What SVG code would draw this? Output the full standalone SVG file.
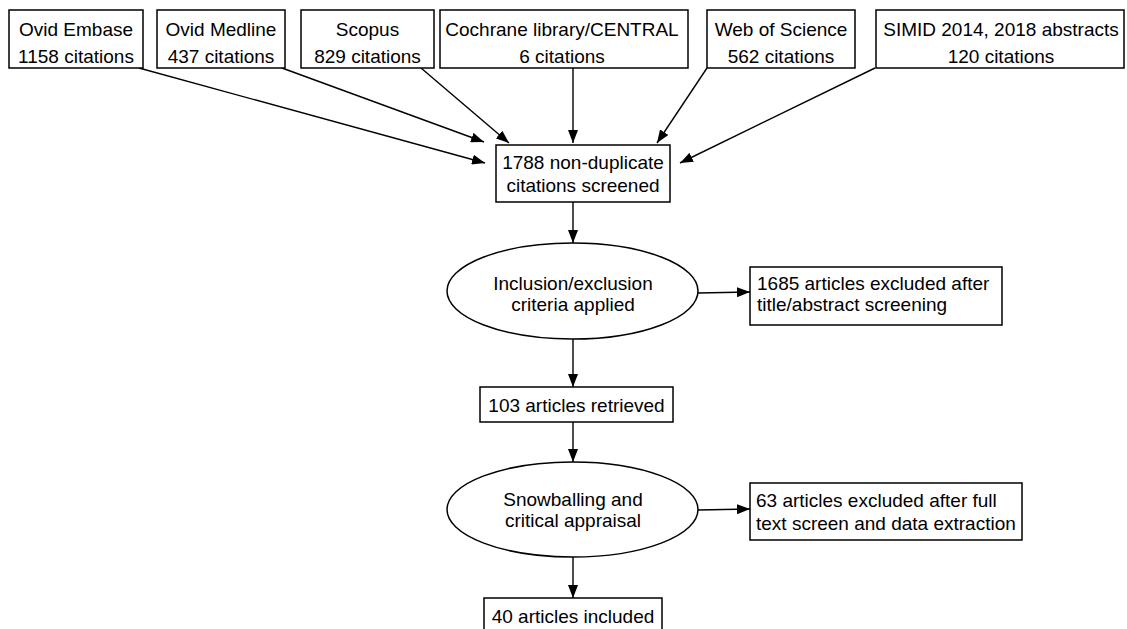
<svg xmlns="http://www.w3.org/2000/svg" width="1127" height="629" viewBox="0 0 1127 629">
<defs>
<style>
.box{fill:#fff;stroke:#000;stroke-width:1.5}
.t{font-family:"Liberation Sans",Arial,sans-serif;font-size:19px;fill:#000}
.c{text-anchor:middle}
.ln{stroke:#000;stroke-width:1.4;fill:none;marker-end:url(#ah)}
</style>
<marker id="ah" viewBox="0 0 13 10" refX="13" refY="5" markerWidth="13" markerHeight="10" markerUnits="userSpaceOnUse" orient="auto"><path d="M0,0 L13,5 L0,10 z" fill="#000"/></marker>
</defs>
<rect width="1127" height="629" fill="#fff"/>
<g id="connectors">
<line class="ln" x1="139" y1="68" x2="485" y2="163"/>
<line class="ln" x1="282" y1="68" x2="484" y2="142"/>
<line class="ln" x1="421" y1="68" x2="509" y2="143"/>
<line class="ln" x1="573" y1="68" x2="573" y2="143"/>
<line class="ln" x1="707" y1="68" x2="657" y2="143"/>
<line class="ln" x1="875" y1="68" x2="680" y2="163"/>
<line class="ln" x1="573" y1="202" x2="573" y2="243"/>
<line class="ln" x1="698" y1="293" x2="750" y2="292"/>
<line class="ln" x1="573" y1="339" x2="573" y2="387"/>
<line class="ln" x1="573" y1="422" x2="573" y2="462"/>
<line class="ln" x1="698" y1="510" x2="750" y2="509"/>
<line class="ln" x1="573" y1="557" x2="573" y2="598"/>
</g>
<g id="embase"><rect class="box" x="9" y="10" width="134" height="58"/><text class="t c" x="76" y="36">Ovid Embase</text><text class="t c" x="76" y="63">1158 citations</text></g>
<g id="medline"><rect class="box" x="157" y="10" width="128" height="58"/><text class="t c" x="221" y="36">Ovid Medline</text><text class="t c" x="221" y="63">437 citations</text></g>
<g id="scopus"><rect class="box" x="301" y="10" width="133" height="58"/><text class="t c" x="367.5" y="36">Scopus</text><text class="t c" x="367.5" y="63">829 citations</text></g>
<g id="cochrane"><rect class="box" x="440" y="10" width="248" height="58"/><text class="t c" x="562" y="36">Cochrane library/CENTRAL</text><text class="t c" x="562" y="63">6 citations</text></g>
<g id="wos"><rect class="box" x="707" y="10" width="148" height="58"/><text class="t c" x="781" y="36">Web of Science</text><text class="t c" x="781" y="63">562 citations</text></g>
<g id="simid"><rect class="box" x="876" y="10" width="248" height="58"/><text class="t c" x="1001" y="36">SIMID 2014, 2018 abstracts</text><text class="t c" x="1001" y="63">120 citations</text></g>
<g id="screened"><rect class="box" x="496" y="145" width="174" height="57"/><text class="t c" x="583" y="169">1788 non-duplicate</text><text class="t c" x="583" y="192">citations screened</text></g>
<g id="criteria"><ellipse class="box" cx="572.5" cy="291" rx="125.5" ry="48"/><text class="t c" x="573" y="290">Inclusion/exclusion</text><text class="t c" x="573" y="311">criteria applied</text></g>
<g id="excluded1"><rect class="box" x="750" y="267" width="252" height="58"/><text class="t" x="757" y="290">1685 articles excluded after</text><text class="t" x="757" y="311">title/abstract screening</text></g>
<g id="retrieved"><rect class="box" x="480" y="387" width="193" height="35"/><text class="t c" x="576.5" y="412">103 articles retrieved</text></g>
<g id="snowball"><ellipse class="box" cx="572.5" cy="509.5" rx="125.5" ry="47.5"/><text class="t c" x="573" y="506">Snowballing and</text><text class="t c" x="573" y="527">critical appraisal</text></g>
<g id="excluded2"><rect class="box" x="750" y="483" width="272" height="57"/><text class="t" x="756" y="507">63 articles excluded after full</text><text class="t" x="756" y="530">text screen and data extraction</text></g>
<g id="included"><rect class="box" x="484" y="598" width="178" height="34"/><text class="t c" x="573" y="623">40 articles included</text></g>
</svg>
